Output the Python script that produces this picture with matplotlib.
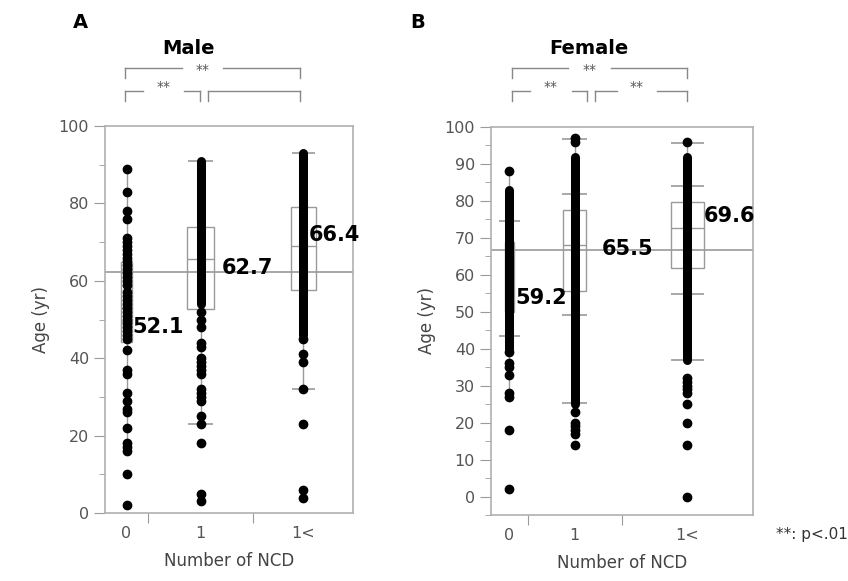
import numpy as np
import matplotlib
matplotlib.use("Agg")
import matplotlib.pyplot as plt
from matplotlib.ticker import MultipleLocator, AutoMinorLocator

# ---------------------------
# Data (ages in years)
# ---------------------------
groups = ["0", "1", "1<"]

# relative column widths (JMP scales column width by group size)
male_widths = [43, 105, 100]
female_widths = [37, 94, 132]

male_q1 = [44.3, 52.6, 57.6]
male_median = [53.0, 65.6, 69.0]
male_q3 = [64.9, 74.0, 79.0]
male_whisker = [(16, 89), (23, 91), (32, 93)]
male_caps = [[], [23, 91], [32, 93]]
male_means = [52.1, 62.7, 66.4]
male_grand_mean = 62.2
male_dense = [None, (54, 91), (46, 93)]
male_points = [
    [89, 83, 78, 76, 71, 70, 69, 68, 67, 66, 65, 64, 63, 62, 61, 60, 59, 57, 56,
     55, 54, 53, 52, 51, 50, 49, 48, 47, 46, 45, 42, 37, 36, 31, 29, 27, 26, 22,
     18, 17, 16, 10, 2],
    [52, 50, 48, 44, 43, 40, 39, 38, 37, 36, 32, 31, 30, 29, 25, 23, 18, 5, 3],
    [45, 41, 39, 32, 23, 6, 4],
]

female_q1 = [50.0, 55.7, 61.8]
female_median = [61.0, 68.1, 72.7]
female_q3 = [69.0, 77.6, 79.7]
female_whisker = [(27, 88), (25, 97), (37, 96)]
female_caps = [[43.5, 74.5], [25.3, 49.2, 81.9, 96.7], [37.0, 54.9, 83.9, 95.8]]
female_means = [59.2, 65.5, 69.6]
female_grand_mean = 66.6
female_dense = [(40, 83), (25, 92), (37, 92)]
female_points = [
    [88, 39, 36, 35, 33, 28, 27, 18, 2],
    [97, 96, 23, 20, 19, 18, 17, 14],
    [96, 32, 31, 30, 29, 28, 25, 20, 14, 0],
]

GRAY = "#9a9a9a"
TXT = "#555555"


def draw_panel(ax, widths, q1, med, q3, whisk, caps, means, grand, dense, points,
               ylim, major, label_pos, label_dx, cap_frac):
    edges = np.concatenate([[0], np.cumsum(widths)])
    centers = (edges[:-1] + edges[1:]) / 2
    total = edges[-1]

    ax.axhline(grand, color=GRAY, lw=1.2, zorder=1)

    for i, c in enumerate(centers):
        bw = widths[i] * 0.25
        # whisker line
        ax.vlines(c, whisk[i][0], whisk[i][1], color=GRAY, lw=1, zorder=2)
        # quantile box
        ax.add_patch(plt.Rectangle((c - bw / 2, q1[i]), bw, q3[i] - q1[i],
                                   fill=False, ec=GRAY, lw=1, zorder=2))
        ax.hlines(med[i], c - bw / 2, c + bw / 2, color=GRAY, lw=1, zorder=2)
        cw = widths[i] * cap_frac[i]
        for v in caps[i]:
            ax.hlines(v, c - cw / 2, c + cw / 2, color=GRAY, lw=1.2, zorder=2)
        # observations
        if dense[i] is not None:
            ax.vlines(c, dense[i][0], dense[i][1], color="black", lw=6.5,
                      capstyle="round", zorder=3)
        ax.plot([c] * len(points[i]), points[i], "o", color="black", ms=6,
                mec="black", zorder=4)
        # mean label
        ax.annotate(f"{means[i]:.1f}", xy=(c + bw / 2, label_pos[i]),
                    xytext=(label_dx[i], 0), textcoords="offset points",
                    ha="left", va="center", fontsize=15, fontweight="bold",
                    color="black", zorder=5)

    ax.set_xlim(0, total)
    ax.set_ylim(*ylim)
    ax.set_xticks(edges[1:-1])
    ax.set_xticklabels([])
    ax.set_xticks(centers, minor=True)
    ax.set_xticklabels(groups, minor=True)
    ax.tick_params(axis="x", which="major", length=7, color=GRAY, direction="out")
    ax.tick_params(axis="x", which="minor", length=0, pad=9, labelsize=11.5,
                   labelcolor=TXT)
    ax.yaxis.set_major_locator(MultipleLocator(major))
    ax.yaxis.set_minor_locator(AutoMinorLocator(2))
    ax.tick_params(axis="y", which="major", length=8, color=GRAY, labelsize=11.5,
                   labelcolor=TXT)
    ax.tick_params(axis="y", which="minor", length=4, color=GRAY)
    for s in ax.spines.values():
        s.set_color("#b0b0b0")
        s.set_linewidth(1.2)
    ax.set_ylabel("Age (yr)", fontsize=12, color="#444444", labelpad=6)
    ax.set_xlabel("Number of NCD", fontsize=12, color="#444444", labelpad=8)


fig = plt.figure(figsize=(8.48, 5.81), dpi=100)
axA = fig.add_axes([105 / 848, 1 - 513 / 581, 248 / 848, 387 / 581])
axB = fig.add_axes([491 / 848, 1 - 515 / 581, 262 / 848, 388 / 581])

draw_panel(axA, male_widths, male_q1, male_median, male_q3, male_whisker,
           male_caps, male_means, male_grand_mean, male_dense, male_points,
           (0, 100), 20, [48.1, 63.3, 71.8], [0, 6, -5], [0.25, 0.24, 0.23])
draw_panel(axB, female_widths, female_q1, female_median, female_q3,
           female_whisker, female_caps, female_means, female_grand_mean,
           female_dense, female_points, (-5, 100), 10, [53.7, 67.0, 76.0],
           [1, 11, 0], [0.57, 0.27, 0.25])

# overlay in pixel coordinates for titles and significance brackets
ov = fig.add_axes([0, 0, 1, 1], facecolor="none")
ov.set_xlim(0, 848)
ov.set_ylim(581, 0)
ov.axis("off")

ov.text(80, 22, "A", fontsize=14, fontweight="bold", ha="center", va="center")
ov.text(418, 22, "B", fontsize=14, fontweight="bold", ha="center", va="center")
ov.text(188, 48, "Male", fontsize=14, fontweight="bold", ha="center", va="center")
ov.text(589, 48, "Female", fontsize=14, fontweight="bold", ha="center", va="center")


def bracket(x0, x1, y, drop, gap=None, ty=None):
    kw = dict(color="#888888", lw=1)
    ov.plot([x0, x0], [y + drop, y], **kw)
    ov.plot([x1, x1], [y + drop, y], **kw)
    if gap is None:
        ov.plot([x0, x1], [y, y], **kw)
    else:
        ov.plot([x0, gap[0]], [y, y], **kw)
        ov.plot([gap[1], x1], [y, y], **kw)
        ov.text((gap[0] + gap[1]) / 2, ty, "**", fontsize=10, color=TXT,
                ha="center", va="center")


bracket(125, 300, 68, 10, (182, 223), 70)
bracket(125, 200, 91, 10, (143, 184), 87)
bracket(208, 300, 91, 10)

bracket(512, 687, 68, 10, (568, 611), 70)
bracket(512, 587, 91, 10, (530, 572), 87)
bracket(595, 687, 91, 10, (617, 657), 87)

ov.text(848, 535, "**: p<.01", fontsize=11, color="#333333", ha="right",
        va="center")

fig.savefig("out.png", dpi=100)
